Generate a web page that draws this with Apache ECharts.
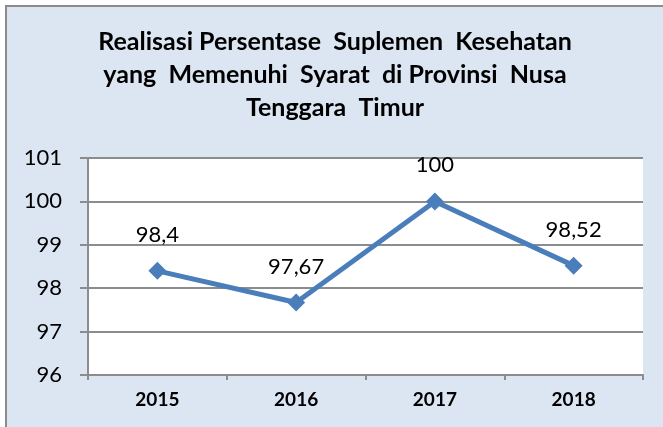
<!DOCTYPE html>
<html>
<head>
<meta charset="utf-8">
<script src="https://cdn.jsdelivr.net/npm/echarts@6/dist/echarts.min.js"></script>
<style>
html, body { margin: 0; padding: 0; background: #ffffff; overflow: hidden; }
#frame {
    position: absolute; left: 5px; top: 5px;
    width: 700px; height: 500px;
    border-left: 2px solid #8c8c8c; border-top: 2px solid #8c8c8c;
    background: #dce6f2;
}
#chart { width: 656px; height: 420px; }
</style>
</head>
<body>
<div id="frame"><div id="chart"></div></div>
<script>
// data
const years = ['2015', '2016', '2017', '2018'];
const values = [98.4, 97.67, 100, 98.52];
const yMin = 96;
const yMax = 101;

const chart = echarts.init(document.getElementById('chart'));

const option = {
    animation: false,
    title: {
        text: 'Realisasi Persentase  Suplemen  Kesehatan\nyang  Memenuhi  Syarat  di Provinsi  Nusa\nTenggara  Timur',
        left: 'center',
        top: 13,
        textStyle: {
            fontFamily: 'Lato',
            fontWeight: 'bold',
            fontSize: 25,
            lineHeight: 33,
            color: '#000'
        }
    },
    grid: {
        show: true, backgroundColor: '#ffffff', borderWidth: 0,
        left: 81, top: 151, right: 20, bottom: 52, containLabel: false
    },
    xAxis: {
        type: 'category',
        data: years,
        boundaryGap: true,
        axisLine: { lineStyle: { color: '#8c8c8c', width: 2 } },
        axisTick: { show: true, length: 5, lineStyle: { color: '#8c8c8c', width: 2 } },
        axisLabel: { fontFamily: 'Lato', fontWeight: 'bold', fontSize: 19, color: '#000', margin: 15 }
    },
    yAxis: {
        type: 'value',
        min: yMin,
        max: yMax,
        interval: 1,
        axisLine: { show: true, lineStyle: { color: '#8c8c8c', width: 2 } },
        axisTick: { show: true, length: 8, lineStyle: { color: '#8c8c8c', width: 2 } },
        axisLabel: { fontFamily: 'Lato', fontSize: 22, color: '#000', margin: 26 },
        splitLine: { lineStyle: { color: '#8c8c8c', width: 2 } }
    },
    series: [{
        type: 'line',
        data: values,
        symbol: 'diamond',
        symbolSize: 18,
        lineStyle: { color: '#4a7ebb', width: 5 },
        itemStyle: { color: '#4a7ebb' },
        label: {
            show: true,
            position: 'top',
            distance: 16,
            fontFamily: 'Lato',
            fontSize: 22,
            color: '#000',
            formatter: p => String(p.value).replace('.', ',')
        }
    }]
};

chart.setOption(option);
</script>
</body>
</html>
